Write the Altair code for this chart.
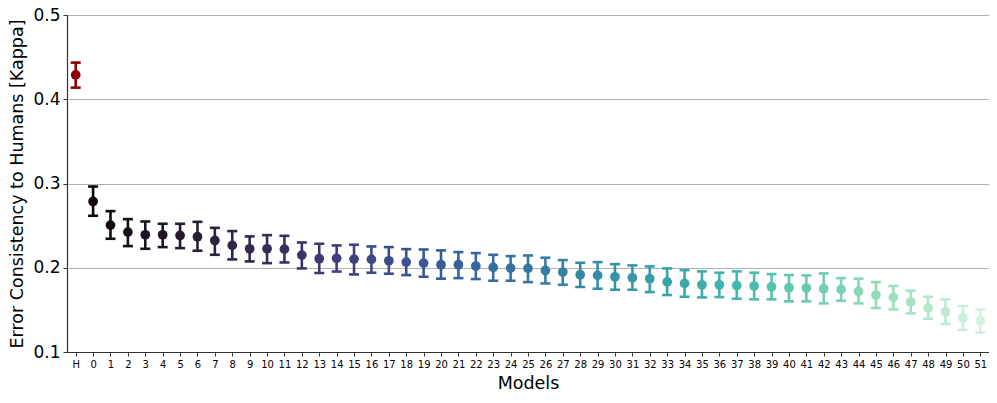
import altair as alt
import pandas as pd
import numpy as np

labels = ["H"] + [str(i) for i in range(52)]
means = [0.4289, 0.2787, 0.2506, 0.2423, 0.2391, 0.2391, 0.2383, 0.2368, 0.2324, 0.2265,
         0.2225, 0.2225, 0.2221, 0.2150, 0.2107, 0.2112, 0.2103, 0.2099, 0.2083, 0.2067,
         0.2055, 0.2036, 0.2036, 0.2020, 0.2004, 0.1996, 0.1992, 0.1968, 0.1949, 0.1917,
         0.1909, 0.1893, 0.1881, 0.1870, 0.1832, 0.1814, 0.1798, 0.1798, 0.1790, 0.1783,
         0.1775, 0.1763, 0.1759, 0.1751, 0.1743, 0.1719, 0.1676, 0.1648, 0.1593, 0.1522,
         0.1478, 0.1403, 0.1372]
highs = [0.4435, 0.2964, 0.2672, 0.2577, 0.2549, 0.2522, 0.2522, 0.2545, 0.2474, 0.2435,
         0.2372, 0.2387, 0.2379, 0.2300, 0.2285, 0.2265, 0.2273, 0.2253, 0.2245, 0.2221,
         0.2217, 0.2206, 0.2186, 0.2174, 0.2154, 0.2138, 0.2146, 0.2119, 0.2091, 0.2059,
         0.2067, 0.2043, 0.2028, 0.2016, 0.1992, 0.1972, 0.1957, 0.1941, 0.1957, 0.1941,
         0.1925, 0.1913, 0.1909, 0.1933, 0.1877, 0.1870, 0.1830, 0.1783, 0.1727, 0.1656,
         0.1625, 0.1545, 0.1506]
lows = [0.4138, 0.2617, 0.2344, 0.2257, 0.2225, 0.2245, 0.2233, 0.2202, 0.2154, 0.2099,
        0.2075, 0.2055, 0.2063, 0.1992, 0.1937, 0.1955, 0.1921, 0.1941, 0.1929, 0.1913,
        0.1893, 0.1870, 0.1877, 0.1866, 0.1846, 0.1846, 0.1830, 0.1814, 0.1798, 0.1771,
        0.1751, 0.1739, 0.1739, 0.1711, 0.1676, 0.1656, 0.1648, 0.1652, 0.1632, 0.1625,
        0.1625, 0.1601, 0.1601, 0.1577, 0.1609, 0.1577, 0.1522, 0.1506, 0.1458, 0.1395,
        0.1332, 0.1261, 0.1229]

# mako-like palette (style)
anchor_pos = [0.0, 1/7, 2/7, 3/7, 4/7, 5/7, 6/7, 1.0]
anchor_hex = ["#0b0405", "#2e1e3b", "#413d7b", "#37659e", "#348fa7", "#40b7ad", "#8bdab2", "#def5e5"]
anchor_rgb = np.array([[int(h[i:i + 2], 16) for i in (1, 3, 5)] for h in anchor_hex], dtype=float)
n_models = len(labels) - 1
positions = np.linspace(0, 1, n_models + 2)[1:-1]
colors = ["#8b0000"]
for p in positions:
    rgb = [np.interp(p, anchor_pos, anchor_rgb[:, k]) for k in range(3)]
    colors.append("#%02x%02x%02x" % tuple(int(round(c)) for c in rgb))

df = pd.DataFrame({"model": labels, "mean": means, "low": lows, "high": highs, "color": colors})

x_enc = alt.X("model:O", sort=labels, scale=alt.Scale(type="point", padding=0.5),
              axis=alt.Axis(title="Models", labelAngle=0, labelFontSize=10, titleFontSize=17.5,
                            titleFontWeight="normal", labelColor="black", titleColor="black",
                            domainColor="#333333", domainWidth=1.2, tickColor="#333333", tickSize=4,
                            labelPadding=3, titlePadding=5, grid=False))
y_scale = alt.Scale(domain=[0.1, 0.5], nice=False, zero=False)

base = alt.Chart(df)

rules = base.mark_rule(strokeWidth=2.6, opacity=1).encode(
    x=x_enc,
    y=alt.Y("low:Q", scale=y_scale,
            axis=alt.Axis(title="Error Consistency to Humans [Kappa]", values=[0.1, 0.2, 0.3, 0.4, 0.5],
                          format=".1f", labelFontSize=17, titleFontSize=17.5, titleFontWeight="normal",
                          labelColor="black", titleColor="black", domainColor="#333333", domainWidth=1.2,
                          tickColor="#333333", tickSize=4, labelPadding=3, titlePadding=6,
                          gridColor="#b0b0b0", gridWidth=1)),
    y2="high:Q",
    color=alt.Color("color:N", scale=None),
)
caps_low = base.mark_tick(orient="horizontal", size=10, thickness=2.6, opacity=1).encode(
    x=alt.X("model:O", sort=labels), y=alt.Y("low:Q", scale=y_scale),
    color=alt.Color("color:N", scale=None))
caps_high = base.mark_tick(orient="horizontal", size=10, thickness=2.6, opacity=1).encode(
    x=alt.X("model:O", sort=labels), y=alt.Y("high:Q", scale=y_scale),
    color=alt.Color("color:N", scale=None))
points = base.mark_circle(size=95, opacity=1).encode(
    x=alt.X("model:O", sort=labels), y=alt.Y("mean:Q", scale=y_scale),
    color=alt.Color("color:N", scale=None))

chart = alt.layer(rules, caps_low, caps_high, points).properties(
    width=922, height=337,
    autosize=alt.AutoSizeParams(type="none"),
    padding={"left": 59, "top": 7, "right": 0, "bottom": 45},
).configure_view(stroke=None).configure(font="DejaVu Sans").configure_axis(
    labelFont="DejaVu Sans", titleFont="DejaVu Sans")

chart.save("out.html", embed_options={"renderer": "svg", "actions": False})
